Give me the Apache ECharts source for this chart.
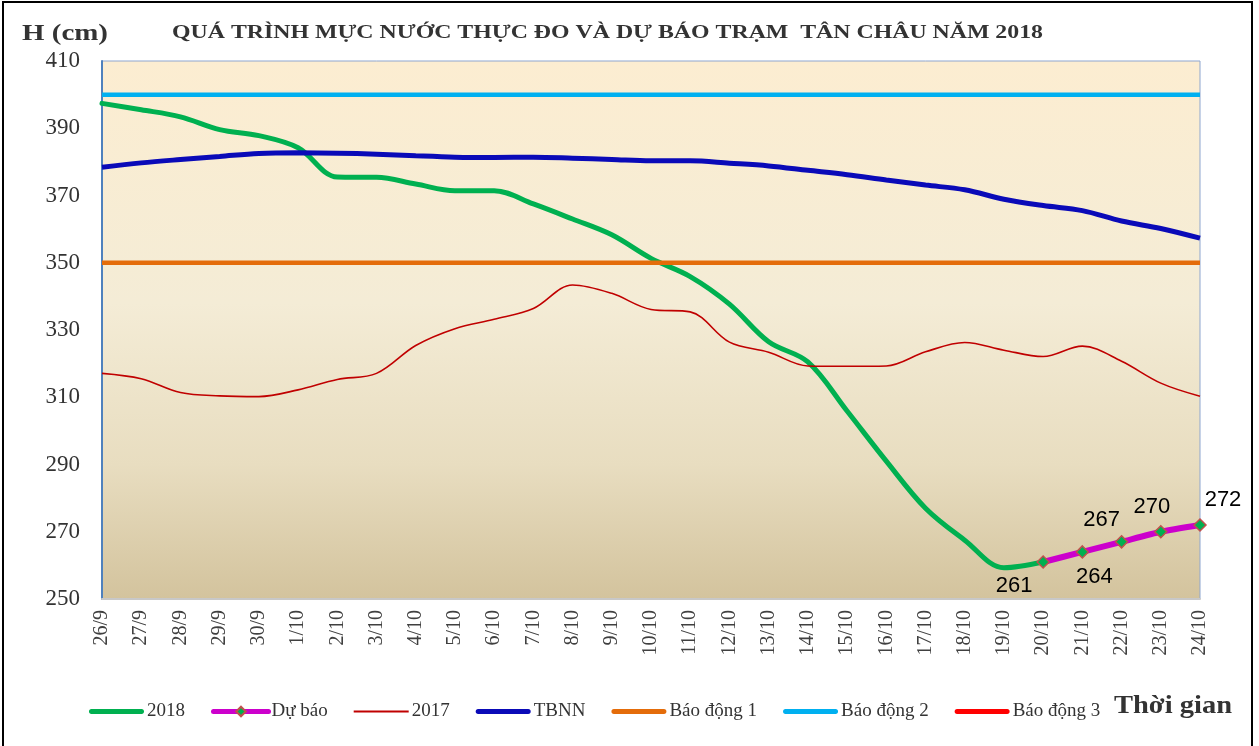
<!DOCTYPE html>
<html>
<head>
<meta charset="utf-8">
<script src="https://cdn.jsdelivr.net/npm/echarts@6/dist/echarts.min.js"></script>
<style>
  html, body { margin: 0; padding: 0; background: #ffffff; }
  #chart { width: 1259px; height: 746px; }
</style>
</head>
<body>
<div id="chart"></div>
<script>
// ---- Data ----
const categories = ['26/9','27/9','28/9','29/9','30/9','1/10','2/10','3/10','4/10','5/10','6/10','7/10','8/10','9/10','10/10',
  '11/10','12/10','13/10','14/10','15/10','16/10','17/10','18/10','19/10','20/10','21/10','22/10','23/10','24/10'];

const h2018 = [397.4, 395.5, 393.4, 389.6, 387.8, 384.2, 375.5, 375.4, 373.4, 371.4, 371.4, 367.5, 363.0, 358.3, 351.3,
  345.9, 337.7, 326.5, 320.5, 305.9, 291.0, 277.0, 267.5, 259.3, 261, null, null, null, null];

const duBao = [null, null, null, null, null, null, null, null, null, null, null, null, null, null, null,
  null, null, null, null, null, null, null, null, null, 261, 264, 267, 270, 272];

const h2017 = [317.1, 315.5, 311.4, 310.4, 310.2, 312.2, 315.3, 317.1, 325.4, 330.4, 333.2, 336.4, 343.4, 340.9, 336.1,
  335.4, 326.4, 323.4, 319.3, 319.2, 319.3, 323.5, 326.3, 324.0, 322.1, 325.2, 320.7, 314.2, 310.3];

const tbnn = [378.4, 379.7, 380.7, 381.6, 382.5, 382.7, 382.6, 382.3, 381.8, 381.4, 381.3, 381.4, 381.1, 380.7, 380.3,
  380.3, 379.6, 378.8, 377.5, 376.2, 374.6, 373.1, 371.7, 368.9, 367.0, 365.5, 362.4, 360.2, 357.3];

const baoDong1 = 350;
const baoDong2 = 400;
const baoDong3 = 450;

const yMin = 250, yMax = 410, yStep = 20;

const seriesNames = ['2018', 'Dự báo', '2017', 'TBNN', 'Báo động 1', 'Báo động 2', 'Báo động 3'];
const titleText = 'QUÁ TRÌNH MỰC NƯỚC THỰC ĐO VÀ DỰ BÁO TRẠM  TÂN CHÂU NĂM 2018';
const yAxisTitle = 'H (cm)';
const xAxisTitle = 'Thời gian';

// ---- Helpers ----
function measure(text, font) {
  const c = document.createElement('canvas').getContext('2d');
  c.font = font;
  return c.measureText(text).width;
}
function stretchedText(text, font, left, right, yMid) {
  const w = measure(text, font);
  return {
    type: 'text', x: left, y: yMid, scaleX: (right - left) / w, originX: 0, originY: 0,
    style: { text: text, font: font, fill: '#333333', textVerticalAlign: 'middle', textAlign: 'left' },
    z: 100
  };
}

// legend icons: rounded bars (thick) and a thin line
const thickBar = 'path://M2.5,0 L52.5,0 C55.8,0 55.8,5 52.5,5 L2.5,5 C-0.8,5 -0.8,0 2.5,0 Z';
const thinBar = 'path://M0,0 L55,0 L55,1.8 L0,1.8 Z';

// label offsets for forecast values (style only)
const fcOffsets = { 24: [-29, 24], 25: [12, 25], 26: [-20, -22], 27: [-9, -25], 28: [23, -25] };
const duBaoData = duBao.map((v, i) => v === null ? null : {
  value: v,
  label: { offset: fcOffsets[i] || [0, -20] }
});

const chart = echarts.init(document.getElementById('chart'), null, { renderer: 'canvas' });

const serif = 'Liberation Serif';
const first = categories[0], last = categories[categories.length - 1];

const option = {
  animation: false,
  backgroundColor: '#ffffff',
  grid: {
    left: 102, right: 59, top: 61, bottom: 147,
    show: true,
    borderColor: '#8EA6CF',
    borderWidth: 1,
    backgroundColor: new echarts.graphic.LinearGradient(0, 0, 0, 1, [
      { offset: 0, color: '#FCEDD1' },
      { offset: 0.45, color: '#F4ECD6' },
      { offset: 0.75, color: '#E8DDC0' },
      { offset: 1, color: '#D3C39D' }
    ])
  },
  xAxis: {
    type: 'category',
    data: categories,
    boundaryGap: false,
    axisLine: { show: true, lineStyle: { color: '#C8C8C8', width: 2 } },
    axisTick: { show: false },
    splitLine: { show: false },
    axisLabel: {
      rotate: 90, interval: 0, margin: 11,
      fontFamily: serif, fontSize: 20, color: '#404040'
    }
  },
  yAxis: {
    type: 'value',
    min: yMin, max: yMax, interval: yStep,
    axisLine: { show: true, lineStyle: { color: '#4F81BD', width: 2 } },
    axisTick: { show: false },
    splitLine: { show: false },
    axisLabel: { margin: 22, fontFamily: serif, fontSize: 23, color: '#333333' }
  },
  legend: {
    left: 84, top: 697,
    itemWidth: 55, itemHeight: 12, itemGap: 26,
    lineStyle: { width: 5, cap: 'round' },
    textStyle: { fontFamily: serif, fontSize: 19, color: '#333333', padding: [0, 0, 0, -2] },
    data: [
      { name: seriesNames[0], icon: thickBar },
      { name: seriesNames[1] },
      { name: seriesNames[2], icon: thinBar },
      { name: seriesNames[3], icon: thickBar },
      { name: seriesNames[4], icon: thickBar },
      { name: seriesNames[5], icon: thickBar },
      { name: seriesNames[6], icon: thickBar }
    ]
  },
  series: [
    {
      name: seriesNames[0], type: 'line', data: h2018, smooth: 0.35, symbolKeepAspect: true,
      symbol: 'none', lineStyle: { color: '#00B050', width: 5, cap: 'round' }, itemStyle: { color: '#00B050' }
    },
    {
      name: seriesNames[1], type: 'line', data: duBaoData, smooth: 0.2,
      symbol: 'diamond', symbolSize: 12, showAllSymbol: true,
      lineStyle: { color: '#CC00CC', width: 6 },
      itemStyle: { color: '#00B050', borderColor: '#C0504D', borderWidth: 1.5 },
      label: {
        show: true, position: 'inside', fontFamily: 'Liberation Sans', fontSize: 22, color: '#000000'
      },
      z: 10
    },
    {
      name: seriesNames[2], type: 'line', data: h2017, smooth: 0.35, symbolKeepAspect: true,
      symbol: 'none', lineStyle: { color: '#C00000', width: 1.6 }, itemStyle: { color: '#C00000' }
    },
    {
      name: seriesNames[3], type: 'line', data: tbnn, smooth: 0.35, symbolKeepAspect: true,
      symbol: 'none', lineStyle: { color: '#0A0AB8', width: 5 }, itemStyle: { color: '#0A0AB8' }
    },
    {
      name: seriesNames[4], type: 'line', data: [[first, baoDong1], [last, baoDong1]], symbolKeepAspect: true,
      symbol: 'none', lineStyle: { color: '#E46C0A', width: 4.5 }, itemStyle: { color: '#E46C0A' }
    },
    {
      name: seriesNames[5], type: 'line', data: [[first, baoDong2], [last, baoDong2]], symbolKeepAspect: true,
      symbol: 'none', lineStyle: { color: '#00B0F0', width: 4.5 }, itemStyle: { color: '#00B0F0' }
    },
    {
      name: seriesNames[6], type: 'line', data: [[first, baoDong3], [last, baoDong3]], symbolKeepAspect: true,
      symbol: 'none', lineStyle: { color: '#FF0000', width: 4.5 }, itemStyle: { color: '#FF0000' }
    }
  ],
  graphic: [
    {
      type: 'rect', shape: { x: 3, y: 2, width: 1249, height: 760 },
      style: { fill: null, stroke: '#000000', lineWidth: 2 }, z: 100, silent: true
    },
    stretchedText(titleText, 'bold 19px "Liberation Serif"', 172, 1043, 33),
    stretchedText(yAxisTitle, 'bold 24px "Liberation Serif"', 22, 108, 34),
    stretchedText(xAxisTitle, 'bold 25px "Liberation Serif"', 1114, 1232, 707)
  ]
};

chart.setOption(option);
</script>
</body>
</html>
